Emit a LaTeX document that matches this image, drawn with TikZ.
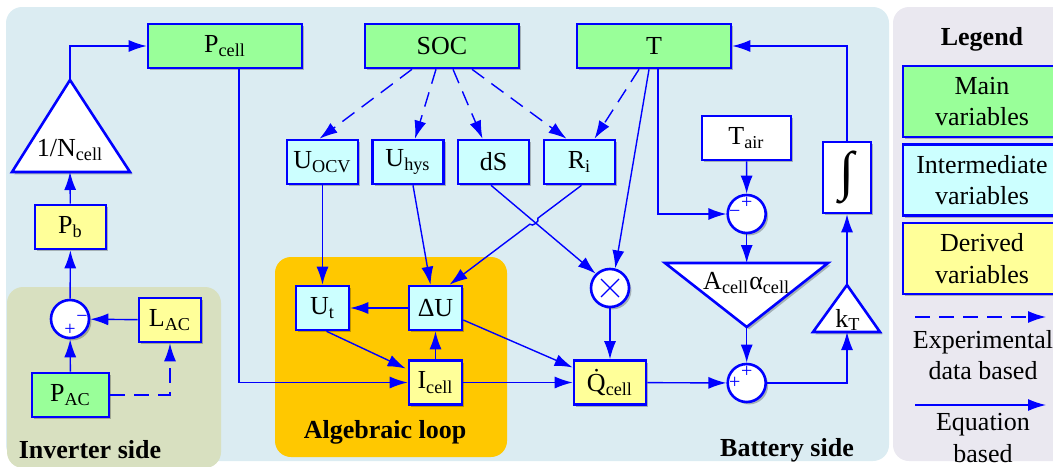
\documentclass[tikz,border=0pt]{standalone}
\usepackage{fontspec}
\setmainfont{Liberation Serif}
\usepackage{xcolor}
\usepackage{tikz}
\usetikzlibrary{arrows.meta, calc, shadows}

\definecolor{azul}{RGB}{0,0,255}
\definecolor{verde}{RGB}{153,255,153}
\definecolor{ciano}{RGB}{204,255,255}
\definecolor{amarelo}{RGB}{255,255,153}
\definecolor{fundo}{RGB}{219,236,242}
\definecolor{fundoleg}{RGB}{234,232,240}
\definecolor{fundoinv}{RGB}{216,224,192}
\definecolor{laco}{RGB}{255,200,0}

\newcommand{\tamanho}{\fontsize{13}{15.8}\selectfont}
\newcommand{\pequeno}{\fontsize{10}{10}\selectfont}

\tikzset{
    >={Latex[length=9pt, width=6pt]},
    seta/.style={->, draw=azul, line width=0.7pt},
    tracejada/.style={seta, dash pattern=on 7.5pt off 4.5pt},
    sombra/.style={drop shadow={shadow xshift=1.2pt, shadow yshift=-1.2pt, fill=black, opacity=0.25}},
    caixa/.style={draw=azul, line width=1.3pt, fill=white, minimum height=22pt, inner sep=0pt, font=\tamanho, sombra},
    principal/.style={caixa, fill=verde, minimum width=77pt},
    intermediaria/.style={caixa, fill=ciano, minimum width=35.5pt},
    derivada/.style={caixa, fill=amarelo, minimum width=35.5pt},
    soma/.style={circle, draw=azul, line width=1.3pt, fill=white, minimum size=19pt, inner sep=0pt, sombra},
    sinal/.style={text=azul, font=\pequeno, inner sep=0pt},
    ganho/.style={draw=azul, line width=1.3pt, fill=white, line join=miter, sombra},
    painel/.style={rounded corners=8pt},
    titulo/.style={font=\bfseries\tamanho},
    legenda/.style={caixa, minimum width=79pt, minimum height=35.5pt, align=center},
}

\begin{document}
\begin{tikzpicture}[x=0.5pt, y=-0.5pt]
    \useasboundingbox (0,0) rectangle (1053,466);
    \clip (0,0) rectangle (1053,466);

    % Paineis de fundo
    \fill[fundo, painel] (6,7) rectangle (889,461);
    \fill[fundoleg, painel] (893,7) rectangle (1075,461);
    \fill[fundoinv, painel] (7,287) rectangle (221,468);
    \fill[laco, painel] (275,257) rectangle (507,457);

    \node[titulo] (inv) at (90,450) {Inverter side};
    \node[titulo] (alg) at (385,432) {Algebraic loop};
    \node[titulo] (bat) at (787,450) {Battery side};

    % Lado do inversor
    \node[principal, minimum width=38.5pt] (PAC) at (70.5,395) {P\textsubscript{AC}};
    \node[derivada, minimum width=31pt] (LAC) at (170,320) {L\textsubscript{AC}};
    \node[soma] (s3) at (70,319) {};
    \node[sinal] (s3a) at ($(s3)+(12,0)$) {−};
    \node[sinal] (s3b) at ($(s3)+(0,11)$) {+};
    \node[derivada] (Pb) at (70.5,227) {P\textsubscript{b}};

    \coordinate (Nbase) at (70,172);
    \coordinate (Ntopo) at (70,80);
    \draw[ganho] (12,172) -- (Ntopo) -- (130,172) -- cycle;
    \node[font=\tamanho] (Ntexto) at (70,150) {1/N\textsubscript{cell}};

    % Variaveis principais
    \node[principal] (Pcell) at (225,46) {P\textsubscript{cell}};
    \node[principal] (SOC) at (442,46) {SOC};
    \node[principal] (T) at (654,46) {T};

    % Variaveis intermediarias
    \node[intermediaria] (Uocv) at (322.5,162) {U\textsubscript{OCV}};
    \node[intermediaria] (Uhys) at (408,162) {U\textsubscript{hys}};
    \node[intermediaria] (dS) at (493.5,162) {dS};
    \node[intermediaria] (Ri) at (579.5,162) {R\textsubscript{i}};
    \node[intermediaria, minimum width=26.5pt] (Ut) at (322.5,308) {U\textsubscript{t}};
    \node[intermediaria, minimum width=26.5pt] (dU) at (435.5,308) {ΔU};

    % Variaveis derivadas
    \node[derivada, minimum width=26.5pt] (Icell) at (435.5,382.5) {I\textsubscript{cell}};
    \node[derivada, minimum width=36pt] (Qcell) at (610,382.5) {\.{Q}\textsubscript{cell}};

    % Multiplicador
    \node[soma] (mult) at (610,288) {};
    \draw[azul, line width=0.6pt] ($(mult)+(-9,-9)$) -- ($(mult)+(9,9)$);
    \draw[azul, line width=0.6pt] ($(mult)+(-9,9)$) -- ($(mult)+(9,-9)$);

    % Lado da bateria
    \node[caixa, minimum width=44.5pt] (Tair) at (746.5,138) {T\textsubscript{air}};
    \node[soma] (s1) at (746.7,214) {};
    \node[sinal] (s1a) at ($(s1)+(0,-11)$) {+};
    \node[sinal] (s1b) at ($(s1)+(-12,0)$) {−};

    \coordinate (Atopo) at (746.7,263);
    \coordinate (Aponta) at (746.7,327);
    \draw[ganho] (665,263) -- (828,263) -- (Aponta) -- cycle;
    \node[font=\tamanho] (Atexto) at (746.7,283) {A\textsubscript{cell}α\textsubscript{cell}};

    \node[soma] (s2) at (746.7,383) {};
    \node[sinal] (s2a) at ($(s2)+(0,-11)$) {+};
    \node[sinal] (s2b) at ($(s2)+(-12,0)$) {+};

    \coordinate (kTtopo) at (847,285);
    \coordinate (kTbase) at (847,332);
    \draw[ganho] (813,332) -- (kTtopo) -- (880,332) -- cycle;
    \node[font=\tamanho] (kTtexto) at (848,320) {k\textsubscript{T}};

    \node[caixa, minimum width=24pt, minimum height=35.5pt, font=\fontsize{27}{27}\selectfont] (integ) at (847,177.5) {∫};

    % Setas do inversor
    \draw[seta] (PAC) -- (s3);
    \draw[seta] (LAC) -- (s3);
    \draw[tracejada] (PAC.east) -| (LAC.south);
    \draw[seta] (s3) -- (Pb);
    \draw[seta] (Pb) -- (Nbase);
    \draw[seta] (Ntopo) |- (Pcell.west);

    % Setas tracejadas (dados experimentais)
    \draw[tracejada] ($(SOC.south)+(-30,0)$) -- ($(Uocv.north)+(-3,0)$);
    \draw[tracejada] ($(SOC.south)+(-6,0)$) -- ($(Uhys.north)+(7,0)$);
    \draw[tracejada] ($(SOC.south)+(11,0)$) -- ($(dS.north)+(-11,0)$);
    \draw[tracejada] ($(SOC.south)+(30,0)$) -- ($(Ri.north)+(-13,0)$);
    \draw[tracejada] ($(T.south)+(-15,0)$) -- ($(Ri.north)+(15,0)$);

    % Laco algebrico
    \draw[seta] ($(Pcell.south)+(14,0)$) |- (Icell.west);
    \draw[seta] (Uocv) -- (Ut);
    \draw[seta] ($(Uhys.south)+(5,0)$) -- ($(dU.north)+(-5,0)$);
    \draw[seta] (dU) -- (Ut);
    \draw[seta] ($(Ut.south)+(4,0)$) -- ($(Icell.west)+(-2,-14)$);
    \draw[seta] (Icell) -- (dU);
    \draw[seta] (Icell) -- (Qcell);
    \draw[seta] ($(dU.east)+(0,12)$) -- ($(Qcell.west)+(0,-15)$);

    % Cruzamento com salto
    \coordinate (Ri1) at ($(Ri.south)+(2,0)$);
    \coordinate (dU1) at ($(dU.north)+(14,0)$);
    \coordinate (cruz) at ($(Ri1)!0.361!(dU1)$);
    \draw[seta] (Ri1) -- ($(cruz)!2.5pt!(Ri1)$) to[bend left=90] ($(cruz)!2.5pt!(dU1)$) -- (dU1);
    \draw[seta] ($(dS.south)+(-2.5,0)$) -- (mult.135);

    % Setas da bateria
    \draw[seta] ($(T.south)+(-5,0)$) -- (mult.75);
    \draw[seta] (mult) -- (Qcell);
    \draw[seta] ($(T.south)+(4,0)$) |- (s1.west);
    \draw[seta] (Tair) -- (s1);
    \draw[seta] (s1) -- (Atopo);
    \draw[seta] (Aponta) -- (s2);
    \draw[seta] (Qcell) -- (s2);
    \draw[seta] (s2.east) -| (kTbase);
    \draw[seta] (kTtopo) -- (integ.south);
    \draw[seta] (integ.north) |- (T.east);

    % Legenda
    \node[titulo] (leg) at (982,39) {Legend};
    \node[legenda, fill=verde] (legP) at (982,101.5) {Main\\variables};
    \node[legenda, fill=ciano] (legI) at (982,180) {Intermediate\\variables};
    \node[legenda, fill=amarelo] (legD) at (982,258.5) {Derived\\variables};
    \coordinate (legA) at (915,317);
    \coordinate (legB) at (1046,317);
    \draw[tracejada] (legA) -- (legB);
    \node[font=\tamanho, align=center] (legE) at (983,355) {Experimental\\data based};
    \coordinate (legC) at (915,405);
    \coordinate (legF) at (1046,405);
    \draw[seta] (legC) -- (legF);
    \node[font=\tamanho, align=center] (legQ) at (983,438) {Equation\\based};

\end{tikzpicture}
\end{document}
